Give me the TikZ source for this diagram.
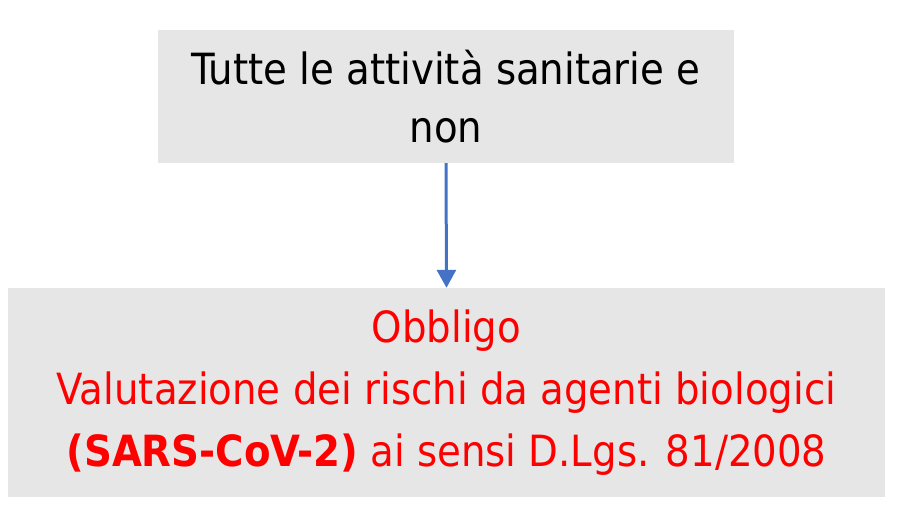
\documentclass[tikz,border=0pt]{standalone}
\usepackage{fontspec}
\setmainfont{DejaVu Sans Condensed}
\usepackage{tikz}
\usetikzlibrary{arrows.meta,positioning}
\definecolor{boxgray}{HTML}{E6E6E6}
\definecolor{arrowblue}{HTML}{4472C4}
\colorlet{textred}{red}

\begin{document}
\begin{tikzpicture}[
  x=1pt,y=-1pt,
  >={Triangle[width=19pt,length=18pt]},
  box/.style = {fill=boxgray,draw=none,align=center,inner sep=0pt,
    font=\fontsize{43}{58}\selectfont}
  ]
  \useasboundingbox (0,0) rectangle (899,506);
  % Boxes
  \node[box,minimum width=576pt,minimum height=133pt] (tutte) at (446,96.5)
    {Tutte le attività sanitarie e\\non};
  \node[box,text=textred,minimum width=877pt,minimum height=209pt,
    font=\fontsize{43}{62}\selectfont] (obbligo) at (446.5,392.5)
    {Obbligo\\Valutazione dei rischi da agenti biologici\\
     \textbf{(SARS-CoV-2)} ai sensi D.Lgs. 81/2008};
  % Arrow
  \draw[arrowblue,->,line width=3pt] (tutte.south) -- (obbligo.north);
\end{tikzpicture}
\end{document}
